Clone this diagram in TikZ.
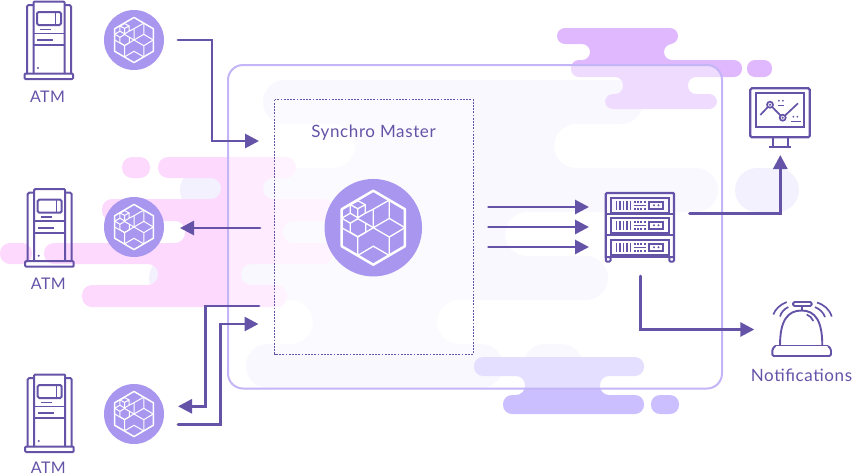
\documentclass[tikz,border=0pt]{standalone}
\usepackage{fontspec}
\setmainfont{Lato}
\usetikzlibrary{arrows.meta}
\definecolor{ink}{HTML}{6553A8}
\definecolor{disc}{HTML}{A996EF}
\definecolor{pale}{HTML}{F3F1FD}
\definecolor{pink}{HTML}{FDD9FE}
\definecolor{lilac}{HTML}{DFB8FD}
\definecolor{violet}{HTML}{CBBFFF}
\definecolor{edge}{HTML}{C4B5F7}
\tikzset{
  cube/.pic={
    \draw[white,line width=\pgfkeysvalueof{/tikz/hexw},line join=round] (0,-37) -- (31.6,-18.5) -- (31.6,18.5) -- (0,37) -- (-31.6,18.5) -- (-31.6,-18.5) -- cycle;
    \draw[white,line width=\pgfkeysvalueof{/tikz/cubew}] (0,-18.5) -- (16,-27.7) (16,-27.7) -- (16,-9.3) -- (0,0) -- (0,-18.5)
      (16,-9.3) -- (31.6,0) -- (16,9.3) -- (0,0) (16,9.3) -- (16,27.7)
      (16,27.7) -- (0,18.5) -- (-15.5,27.7) (-15.5,9.3) -- (-15.5,27.7) (0,0) -- (-15.5,9.3) -- (-31.6,0);
    \draw[white,line width=\pgfkeysvalueof{/tikz/cubew}] (-15.5,-27) -- (-8,-23) -- (-8,-14.5) -- (-15.5,-10) -- (-23,-14.5) -- (-23,-23) -- cycle
      (-15.5,-10) -- (-15.5,-19) -- (-8,-23) (-15.5,-19) -- (-23,-23) (-8,-14.5) -- (0,-18.5) (-23,-14.5) -- (-31.6,-9.5)
      (-15.5,-9) -- (-7.5,-4.5) -- (-7.5,4.5) -- (-15.5,9) -- (-23,4.5) -- (-23,-4.5) -- cycle (-23,-4.5) -- (-31.6,-9.5) (-7.5,-4.5) -- (0,0);
  },
  hexw/.initial=1.5pt, cubew/.initial=1pt,
  atm/.pic={
    \draw[ink,line width=2pt,rounded corners=1pt] (8.5,74) -- (8.5,1.5) -- (39.5,1.5) -- (39.5,74);
    \draw[ink,line width=2pt,rounded corners=1.5pt] (8.5,5) -- (2,5) -- (2,74) (39.5,5) -- (46,5) -- (46,74);
    \draw[ink,line width=2pt,rounded corners=1pt] (-.5,73.5) rectangle (48,79);
    \draw[ink,line width=2pt,rounded corners=1.5pt] (12,12) rectangle (36,25);
    \draw[ink,line width=1.4pt] (30.5,12) -- (30.5,25);
    \draw[ink,line width=1.7pt] (15,29.5) -- (26,29.5) (8.5,33.5) -- (39.5,33.5) (12,40) -- (28,40) (8.5,45) -- (39.5,45);
    \fill[ink] (13,68) circle (1.1pt);
  },
  rackunit/.pic={
    \draw[ink,line width=2pt] (0,0) rectangle (58,15);
    \draw[ink,line width=1.7pt] (5.5,3) -- (5.5,12) (9,3) -- (9,12) (12.5,3) -- (12.5,12) (16,3) -- (16,12) (19.5,3) -- (19.5,12);
    \draw[ink,line width=1.5pt] (23,7.5) -- (35,7.5);
    \draw[ink,line width=1.5pt,dash pattern=on 2pt off 1.2pt] (23,4) -- (35,4) (23,11) -- (35,11);
    \draw[ink,line width=2pt] (38,3.5) rectangle (52,11);
    \fill[ink] (43,7.3) circle (1.1pt) (47.5,7.3) circle (1.1pt);
  },
  server/.pic={
    \draw[ink,line width=2.2pt,rounded corners=1pt] (.8,66) -- (.8,1) -- (69,1) -- (69,66);
    \draw[ink,line width=2pt] (.8,21.5) -- (69,21.5) (.8,43) -- (69,43) (.8,64.5) -- (69,64.5);
    \pic at (6,6) {rackunit};
    \pic at (6,26) {rackunit};
    \pic at (6,48) {rackunit};
    \draw[ink,line width=2pt,rounded corners=1pt] (.8,65) rectangle (5.5,69.5) (64.3,65) rectangle (69,69.5);
  },
  screen/.pic={
    \draw[ink,line width=2.2pt,rounded corners=1.5pt] (0,0) rectangle (59.5,49);
    \draw[ink,line width=1.7pt] (5.5,5) rectangle (54,38.5);
    \draw[ink,line width=2pt] (22.5,49) -- (22.5,59) (38,49) -- (38,59) (19,59) -- (41,59);
    \draw[ink,line width=1.7pt] (10,26.7) -- (19.7,16.4) (19.7,16.4) -- (32.4,29.4) (32.4,29.4) -- (47.7,15);
    \draw[ink,line width=1.7pt,fill=white] (19.7,16.4) circle (3pt) (32.4,29.4) circle (3pt);
    \fill[ink] (19.7,16.4) circle (1.2pt) (32.4,29.4) circle (1.2pt);
    \draw[ink,line width=1.4pt] (27.5,17) -- (33.5,17) (40.5,33) -- (50.5,33);
    \fill[ink] (28.5,12.4) circle (1pt) (32.5,12.4) circle (1pt) (43,28.4) circle (1pt) (47,28.4) circle (1pt);
  },
  bell/.pic={
    \draw[ink,line width=1.9pt,rounded corners=1.5pt] (3,55) -- (0,58) -- (0,65) -- (58.7,65) -- (58.7,58) -- (55.7,55);
    \draw[ink,line width=1.9pt] (3,54.5) -- (55.7,54.5);
    \draw[ink,line width=1.9pt] (7.7,54.5) .. controls (7.7,30) and (15,19.5) .. (29.2,19.5) .. controls (43,19.5) and (50,30) .. (50,54.5);
    \draw[ink,line width=1.9pt] (29.3,15) -- (29.3,19.5);
    \draw[ink,line width=1.9pt,rounded corners=1.5pt] (20.7,11) rectangle (39.4,15);
    \draw[ink,line width=1.7pt] (1,23.5) .. controls (3,18) and (8,13.5) .. (14.4,11) (7.7,25.5) .. controls (9,21) and (12,18) .. (16,16)
      (59.4,25.5) .. controls (57,18) and (52,14) .. (44.7,11.5) (52.7,26) .. controls (51,21.5) and (48,18.5) .. (42.7,16) (34.4,23.5) .. controls (37.5,24.5) and (39.7,27) .. (41,30);
  }
}
\begin{document}
\begin{tikzpicture}[x=1pt,y=-1pt]
\tikzstyle{link}=[draw=ink,line width=2.8pt,line cap=round,-{Triangle[length=14pt,width=14pt]}]
\tikzstyle{hexdisc}=[circle,fill=disc,inner sep=0pt]
\tikzstyle{caption}=[text=ink,inner sep=0pt,font=\fontsize{16}{18}\selectfont\addfontfeature{LetterSpace=3}]
\tikzstyle{widecaption}=[text=ink,inner sep=0pt,font=\fontsize{17}{19}\selectfont\addfontfeature{LetterSpace=3.6}]
\useasboundingbox (0,0) rectangle (853,475);
\fill[pale,rounded corners=22pt] (263,80) -- (643,80) -- (643,124) -- (554,124) -- (554,168) -- (718,168) -- (718,212) -- (505,212) -- (505,256) -- (608,256) -- (608,300) -- (437,300) -- (437,344) -- (503,344) -- (503,388) -- (246,388) -- (246,344) -- (313,344) -- (313,300) -- (149,300) -- (149,256) -- (240,256) -- (240,212) -- (180,212) -- (180,168) -- (355,168) -- (355,124) -- (263,124) -- cycle;
\fill[pale,rounded corners=22pt] (523,344) rectangle (583,388);
\fill[pale,rounded corners=22pt] (735,168) rectangle (799,212);
\fill[pink,rounded corners=10pt] (158,157) -- (296,157) -- (296,178) -- (263,178) -- (263,199) -- (333,199) -- (333,221) -- (283,221) -- (283,243) -- (333,243) -- (333,264) -- (241,264) -- (241,285) -- (287,285) -- (287,307) -- (82,307) -- (82,285) -- (158,285) -- (158,264) -- (44,264) -- (44,243) -- (185,243) -- (185,221) -- (102,221) -- (102,199) -- (221,199) -- (221,178) -- (158,178) -- cycle;
\fill[pink,rounded corners=10pt] (122,157) rectangle (150,178);
\fill[pink,rounded corners=10pt] (0,243) rectangle (32,264);
\fill[lilac,rounded corners=8pt] (557,28) -- (678,28) -- (678,44) -- (664,44) -- (664,60) -- (742,60) -- (742,77) -- (688,77) -- (688,94) -- (717,94) -- (717,109) -- (605,109) -- (605,94) -- (623,94) -- (623,77) -- (571,77) -- (571,60) -- (590,60) -- (590,44) -- (557,44) -- cycle;
\fill[lilac,rounded corners=8pt] (747,60) rectangle (772,77);
\fill[violet,rounded corners=9pt] (474,357) -- (644,357) -- (644,376) -- (600,376) -- (600,395) -- (644,395) -- (644,414) -- (503,414) -- (503,395) -- (525,395) -- (525,376) -- (474,376) -- cycle;
\fill[violet,rounded corners=9pt] (651,395) rectangle (679,414);
\fill[white,opacity=.5,rounded corners=15pt] (228,65) rectangle (722,388.5);
\draw[edge,line width=2pt,rounded corners=15pt] (228,65) rectangle (722,388.5);
\fill[white,opacity=.4] (274.5,99.5) rectangle (473.5,354);
\draw[ink,line width=.9pt,dash pattern=on 1.8pt off 1.4pt] (274.5,99.5) rectangle (473.5,354);
\node[hexdisc,minimum size=60pt] (C_1) at (134,40) {};
\node[hexdisc,minimum size=60pt] (C_2) at (134,227) {};
\node[hexdisc,minimum size=60pt] (C_3) at (134,414) {};
\node[hexdisc,minimum size=97.5pt] (C_4) at (373.3,227.7) {};
\pic[scale=.61] at (C_1) {cube};
\pic[scale=.61] at (C_2) {cube};
\pic[scale=.61] at (C_3) {cube};
\pic[hexw=2.5pt,cubew=1.3pt] at (C_4) {cube};
\pic at (25,0) {atm};
\pic at (25.7,187.7) {atm};
\pic at (25.7,373) {atm};
\pic at (605,192) {server};
\pic at (750.3,88.3) {screen};
\pic at (772.3,291) {bell};
\node[caption] (T_1) at (47.5,97) {ATM};
\node[caption] (T_2) at (48.3,284) {ATM};
\node[caption] (T_3) at (48.3,467.5) {ATM};
\node[widecaption] (T_4) at (373.5,133) {Synchro Master};
\node[widecaption] (T_5) at (801.5,375) {Notifications};
\coordinate (A_1) at (178,40);
\coordinate (A_2) at (212,40);
\coordinate (A_3) at (212,141);
\coordinate (A_4) at (259,141);
\coordinate (B_1) at (260,228);
\coordinate (B_2) at (180,228);
\coordinate (D_1) at (259,306);
\coordinate (D_2) at (205.5,306);
\coordinate (D_3) at (205.5,406.3);
\coordinate (D_4) at (178,406.3);
\coordinate (E_1) at (178,424.8);
\coordinate (E_2) at (220.5,424.8);
\coordinate (E_3) at (220.5,324);
\coordinate (E_4) at (258.5,324);
\coordinate (F_1) at (488.5,207);
\coordinate (F_2) at (589,207);
\coordinate (F_3) at (488.5,227);
\coordinate (F_4) at (589,227);
\coordinate (F_5) at (488.5,247);
\coordinate (F_6) at (589,247);
\coordinate (H_1) at (689.5,213.7);
\coordinate (H_2) at (780.3,213.7);
\coordinate (H_3) at (780.3,155);
\coordinate (J_1) at (640.3,276);
\coordinate (J_2) at (640.3,329.5);
\coordinate (J_3) at (754.3,329.5);
\draw[link] (A_1) -- (A_2) -- (A_3) -- (A_4);
\draw[link] (B_1) -- (B_2);
\draw[link] (D_1) -- (D_2) -- (D_3) -- (D_4);
\draw[link] (E_1) -- (E_2) -- (E_3) -- (E_4);
\draw[link] (F_1) -- (F_2);
\draw[link] (F_3) -- (F_4);
\draw[link] (F_5) -- (F_6);
\draw[link] (H_1) -- (H_2) -- (H_3);
\draw[link] (J_1) -- (J_2) -- (J_3);
\end{tikzpicture}
\end{document}
